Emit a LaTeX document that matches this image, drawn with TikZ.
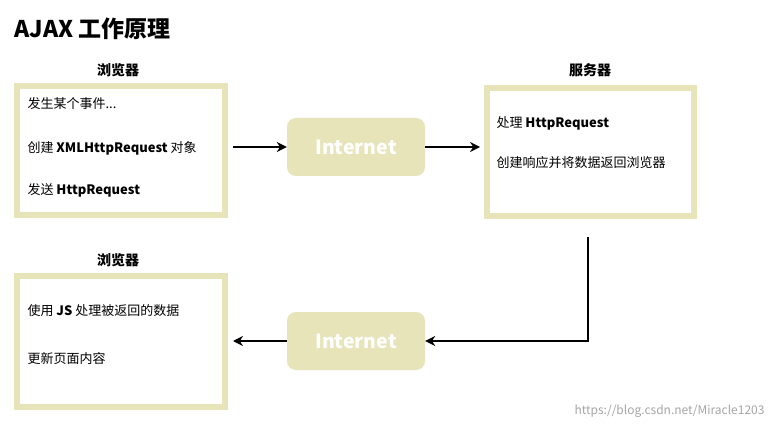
\documentclass[tikz,border=0pt]{standalone}
\usepackage{fontspec}
\setmainfont{Noto Sans CJK SC}
\usetikzlibrary{arrows.meta}
\definecolor{boxc}{HTML}{E6E4B8}
\tikzset{
  panel/.style={draw=boxc,line width=6pt,fill=white},
  net/.style={fill=boxc,rounded corners=9pt,minimum width=138pt,minimum height=58pt,text=white,font=\fontsize{19.5}{22}\selectfont\bfseries},
  ttl/.style={font=\fontsize{14}{16}\selectfont\bfseries},
  txt/.style={anchor=west,font=\fontsize{13}{15}\selectfont},
  arr/.style={line width=2.4pt,-{Stealth[length=10pt,width=10pt]}}
}
\begin{document}
\begin{tikzpicture}[x=1pt,y=-1pt]
\useasboundingbox[fill=white] (0,0) rectangle (775,430);
\node[anchor=west,font=\fontsize{23}{26}\selectfont\bfseries] (title) at (11,29) {AJAX 工作原理};
% browser 1
\node[ttl] (t1) at (118,70) {浏览器};
\draw[panel] (17,86) rectangle (225,215);
\node[txt] (a1) at (24,104) {发生某个事件...};
\node[txt] (a2) at (24,148) {创建 \textbf{XMLHttpRequest} 对象};
\node[txt] (a3) at (24,190) {发送 \textbf{HttpRequest}};
\coordinate (b1r) at (233,147);
% internet 1
\node[net] (n1) at (356,147) {Internet};
% server
\node[ttl] (t2) at (590,70) {服务器};
\draw[panel] (487,88) rectangle (694,216);
\node[txt] (s1) at (493,123) {处理 \textbf{HttpRequest}};
\node[txt] (s2) at (493,163) {创建响应并将数据返回浏览器};
\coordinate (s0) at (480,147);
\coordinate (sd) at (588,237);
% browser 2
\node[ttl] (t3) at (118,260) {浏览器};
\draw[panel] (17,276) rectangle (225,407);
\node[txt] (c1) at (24,311) {使用 \textbf{JS} 处理被返回的数据};
\node[txt] (c2) at (24,359) {更新页面内容};
\coordinate (b2r) at (233,341);
% internet 2
\node[net] (n2) at (356,341) {Internet};
% arrows
\draw[arr] (b1r) -- (n1.west);
\draw[arr] (n1.east) -- (s0);
\draw[arr] (sd) -- (sd |- n2) -- (n2.east);
\draw[arr] (n2.west) -- (b2r);
\node[anchor=east,text=gray!70,font=\fontsize{12}{14}\selectfont] (wm) at (768,411) {https://blog.csdn.net/Miracle1203};
\end{tikzpicture}
\end{document}
